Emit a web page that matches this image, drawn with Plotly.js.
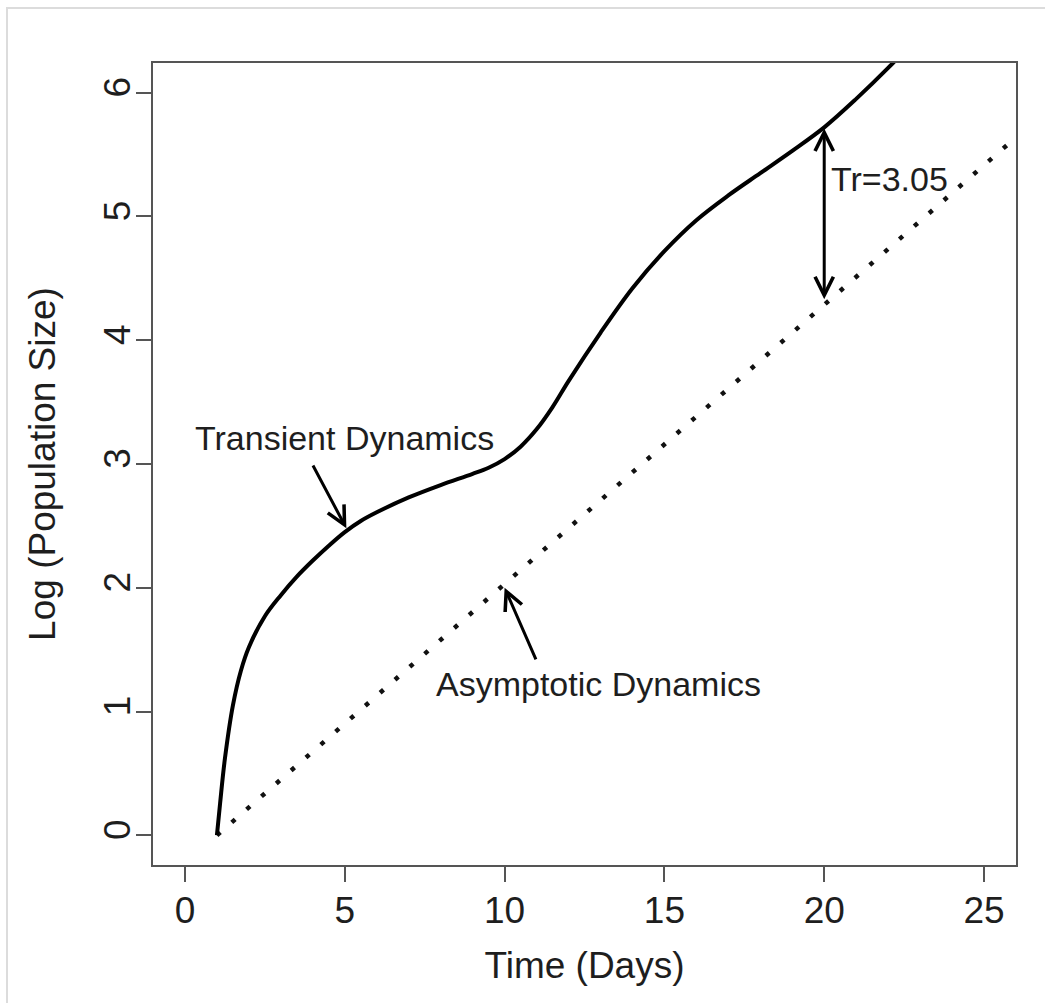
<!DOCTYPE html>
<html>
<head>
<meta charset="utf-8">
<script src="https://cdn.plot.ly/plotly-3.0.1.min.js"></script>
<style>
  body { margin: 0; background: #fff; }
  #frame { position: absolute; left: 6px; top: 7px; width: 1045px; height: 1003px;
           border-left: 2px solid #dcdcdc; border-top: 2px solid #dcdcdc; pointer-events: none; z-index: 10; }
  #chart { width: 1045px; height: 1003px; }
</style>
</head>
<body>
<div id="frame"></div>
<div id="chart"></div>
<script>
// Observed population trajectory (log scale)
var timeObserved = [1, 1.1, 1.25, 1.5, 1.75, 2, 2.5, 3, 3.5, 4, 4.5, 5, 5.5, 6, 7, 8, 9, 9.5, 10, 10.5, 11, 11.5, 12, 13, 14, 15, 16, 17, 18, 19, 20, 21, 22, 23];
var logPopObserved = [0, 0.26, 0.62, 1.05, 1.33, 1.52, 1.77, 1.94, 2.09, 2.22, 2.34, 2.45, 2.54, 2.61, 2.73, 2.83, 2.92, 2.97, 3.04, 3.14, 3.28, 3.46, 3.67, 4.06, 4.42, 4.72, 4.97, 5.17, 5.35, 5.53, 5.72, 5.95, 6.20, 6.47];

// Asymptotic (stable growth) trajectory
var timeAsymptotic = [1, 26];
var logPopAsymptotic = [0, 5.64];

// Tick values
var xTicks = [0, 5, 10, 15, 20, 25];
var yTicks = [0, 1, 2, 3, 4, 5, 6];

// Annotation labels and anchor points
var labelTexts = ["Transient Dynamics", "Asymptotic Dynamics", "Tr=3.05"];
var labelX = [5.0, 12.95, 22.04];
var labelY = [3.21, 1.22, 5.30];

// Arrows: head (x,y) and tail (x,y)
var arrowHeadX = [5.05, 10.0, 20.0];
var arrowHeadY = [2.48, 2.0, 5.71];
var arrowTailX = [3.98, 11.0, 20.0];
var arrowTailY = [3.0, 1.41, 4.32];
var arrowDouble = [false, false, true];

var FONT = "Liberation Sans, Arial, sans-serif";
var TXT = "#1e1e1e";

var traces = [
  {
    x: timeAsymptotic, y: logPopAsymptotic, mode: "lines", type: "scatter",
    line: { color: "#111", width: 4.5, dash: "4.5px,15.2px" },
    hoverinfo: "skip", showlegend: false
  },
  {
    x: timeObserved, y: logPopObserved, mode: "lines", type: "scatter",
    line: { color: "#000", width: 4, shape: "spline", smoothing: 1 },
    hoverinfo: "skip", showlegend: false
  }
];

var annotations = [];
for (var i = 0; i < labelTexts.length; i++) {
  annotations.push({
    x: labelX[i], y: labelY[i], xref: "x", yref: "y",
    text: labelTexts[i], showarrow: false,
    font: { family: FONT, size: 34, color: TXT },
    xanchor: "center", yanchor: "middle"
  });
}
for (var j = 0; j < arrowHeadX.length; j++) {
  var a = {
    x: arrowHeadX[j], y: arrowHeadY[j], xref: "x", yref: "y",
    ax: arrowTailX[j], ay: arrowTailY[j], axref: "x", ayref: "y",
    text: "", showarrow: true,
    arrowhead: 5, arrowsize: 1.2, arrowwidth: 3, arrowcolor: "#000",
    standoff: 0, startstandoff: 0
  };
  if (arrowDouble[j]) {
    a.arrowside = "end+start";
    a.startarrowhead = 5;
    a.startarrowsize = 1.2;
  }
  annotations.push(a);
}

var axisCommon = {
  showgrid: false, zeroline: false,
  showline: true, linecolor: "#555", linewidth: 2, mirror: true,
  ticks: "outside", ticklen: 15, tickwidth: 2, tickcolor: "#555",
  tickfont: { family: FONT, size: 37, color: TXT },
  automargin: false
};

var layout = {
  width: 1045, height: 1003,
  margin: { l: 153, r: 29, t: 63, b: 138 },
  paper_bgcolor: "#fff", plot_bgcolor: "#fff",
  showlegend: false,
  xaxis: Object.assign({}, axisCommon, {
    range: [-1, 26], tickmode: "array", tickvals: xTicks, ticklabelstandoff: -3,
    title: { text: "Time (Days)", font: { family: FONT, size: 37, color: TXT }, standoff: 22 }
  }),
  yaxis: Object.assign({}, axisCommon, {
    range: [-0.24, 6.24], tickmode: "array", tickvals: yTicks, tickangle: -90, ticklabelstandoff: -9,
    title: { text: "Log (Population Size)", font: { family: FONT, size: 37, color: TXT }, standoff: 30 }
  }),
  annotations: annotations
};

Plotly.newPlot("chart", traces, layout, { displayModeBar: false, staticPlot: true });
</script>
</body>
</html>
